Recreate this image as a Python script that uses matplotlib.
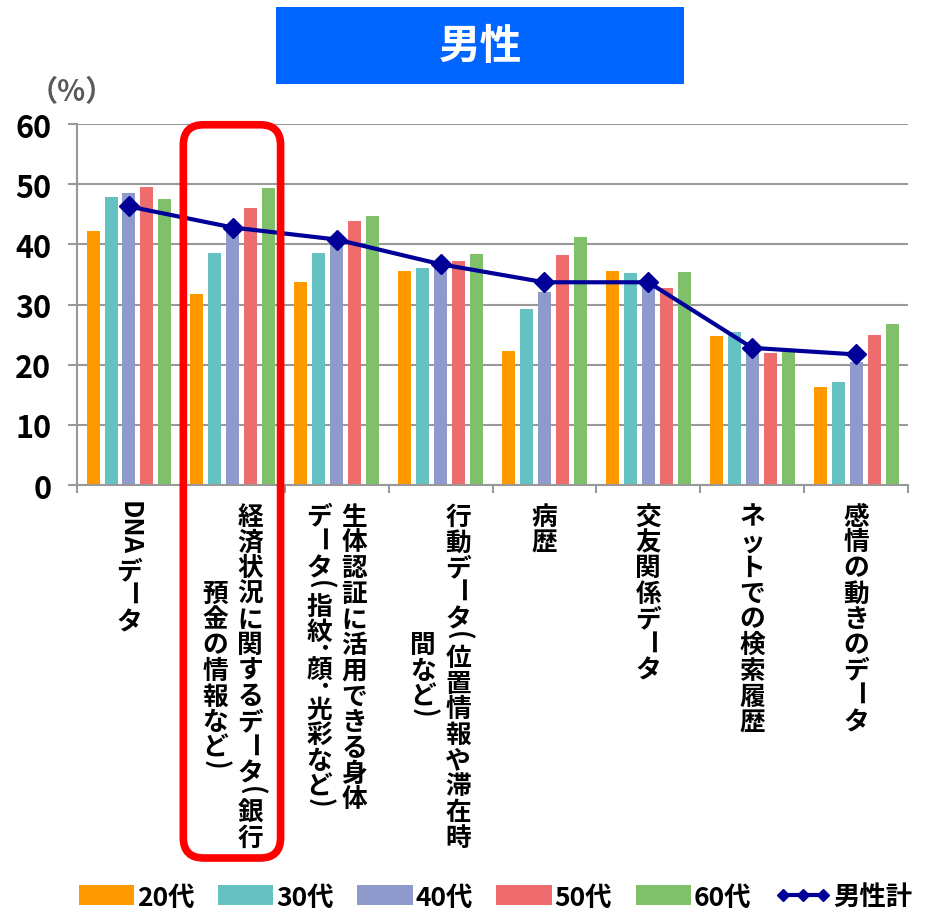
import numpy as np
import matplotlib
matplotlib.use("Agg")
import matplotlib.pyplot as plt
from matplotlib.patches import FancyBboxPatch, Rectangle
from matplotlib.font_manager import FontProperties
from matplotlib.textpath import TextPath

plt.rcParams['font.family'] = ['Noto Sans CJK JP', 'DejaVu Sans']

# survey results (%), men by age group
categories = [
    "DNAデータ",
    "経済状況に関するデータ(銀行\n預金の情報など)",
    "生体認証に活用できる身体\nデータ(指紋･顔･光彩など)",
    "行動データ(位置情報や滞在時\n間など)",
    "病歴",
    "交友関係データ",
    "ネットでの検索履歴",
    "感情の動きのデータ",
]
age_labels = ["20代", "30代", "40代", "50代", "60代"]
v20 = [42.3, 31.7, 33.8, 35.6, 22.3, 35.6, 24.8, 16.3]
v30 = [47.8, 38.6, 38.6, 36.0, 29.2, 35.3, 25.5, 17.1]
v40 = [48.6, 42.5, 40.5, 36.5, 32.0, 33.5, 23.0, 20.4]
v50 = [49.5, 46.0, 43.9, 37.3, 38.3, 32.8, 21.9, 24.9]
v60 = [47.6, 49.3, 44.7, 38.4, 41.3, 35.4, 22.1, 26.7]
total = [46.3, 42.8, 40.8, 36.7, 33.7, 33.7, 22.8, 21.7]
total_label = "男性計"
yticks = [0, 10, 20, 30, 40, 50, 60]

colors = ["#FF9900", "#66C2C2", "#8E9ACB", "#EE6B6E", "#80C06A"]
line_color = "#000099"
grid_color = "#999999"

fig = plt.figure(figsize=(9.26, 9.2), dpi=100)
ax = fig.add_axes([0.0832, 0.4717, 0.8974, 0.3924])

x = np.arange(len(categories))
step = 0.173
width = 0.125
handles = []
for i, vals in enumerate([v20, v30, v40, v50, v60]):
    b = ax.bar(x + (i - 2) * step, vals, width, color=colors[i],
               label=age_labels[i], zorder=2)
    handles.append(b)

ln, = ax.plot(x, total, color=line_color, lw=3, marker="D", ms=10,
              label=total_label, zorder=3)
handles.append(ln)

ax.set_xlim(-0.5, len(categories) - 0.5)
ax.set_ylim(0, 60)
ax.set_yticks(yticks)
ax.grid(axis="y", color=grid_color, lw=1.5, zorder=0)
ax.set_axisbelow(True)
for s in ["top", "right"]:
    ax.spines[s].set_visible(False)
for s in ["left", "bottom"]:
    ax.spines[s].set_color(grid_color)
    ax.spines[s].set_linewidth(1.5)
ax.tick_params(axis="y", length=6.5, width=1.5, color=grid_color, pad=12,
               labelcolor="black")
ax.set_yticklabels([str(v) for v in yticks], size=22, weight="bold")
ax.set_xticks([])
ax.set_xticks(np.arange(-0.5, len(categories)), minor=True)
ax.tick_params(axis="x", which="minor", length=6, width=1.5, color=grid_color)


# vertical (tategaki) category labels: kanji/kana upright, latin and
# brackets/long vowel turned sideways, first line in the right column
def vertical_label(ax, xpos, text, fs=18.5, gap=11, col_sep=25.2):
    fp = FontProperties(family="Noto Sans CJK JP", weight="bold", size=fs)
    lines = text.split("\n")
    cols = []
    for line in lines:
        tokens = []
        buf = ""
        for ch in line:
            if ch.isascii() and ch not in "()":
                buf += ch
                continue
            if buf:
                w = TextPath((0, 0), buf, prop=fp).get_extents().width
                tokens.append((buf, True, w + fs * 0.1))
                buf = ""
            if ch in "()･":
                tokens.append((ch, True, fs * 0.5))
            elif ch == "ー":
                tokens.append((ch, True, fs))
            else:
                tokens.append((ch, False, fs))
        if buf:
            w = TextPath((0, 0), buf, prop=fp).get_extents().width
            tokens.append((buf, True, w + fs * 0.1))
        cols.append(tokens)
    lengths = [sum(t[2] for t in c) for c in cols]
    longest = max(lengths)
    n = len(cols)
    for k, tokens in enumerate(cols):
        dx = ((n - 1) / 2 - k) * col_sep
        pos = gap + (longest - lengths[k]) / 2
        for s, rot, adv in tokens:
            ax.annotate(s, xy=(xpos, 0), xycoords="data",
                        xytext=(dx, -(pos + adv / 2)), textcoords="offset points",
                        ha="center", va="center_baseline" if not rot else "center",
                        rotation=-90 if rot else 0,
                        fontproperties=fp, annotation_clip=False)
            pos += adv


for i, cat in enumerate(categories):
    vertical_label(ax, i, cat)

# title box
fig.add_artist(Rectangle((0.298, 0.9076), 0.4406, 0.0837, transform=fig.transFigure,
                         facecolor="#0066FF", edgecolor="none"))
fig.text(0.5184, 0.949, "男性", color="white", fontsize=30, fontweight="bold",
         ha="center", va="center")
fig.text(0.077, 0.9, "（%）", color="#595959", fontsize=21, fontweight="bold",
         ha="center", va="center")

# highlight frame around the economic data group
fig.add_artist(FancyBboxPatch((0.198, 0.0663), 0.105, 0.797,
                              boxstyle="round,pad=0,rounding_size=0.022",
                              transform=fig.transFigure, fill=False,
                              edgecolor="#FF0000", lw=5.5))

fig.legend(handles=handles, loc="center", bbox_to_anchor=(0.535, 0.024),
           ncol=6, frameon=False, prop={"size": 19, "weight": "bold"},
           handlelength=2.1, handleheight=0.8, handletextpad=0.1,
           columnspacing=0.9, numpoints=3, markerscale=0.65, borderaxespad=0)

fig.savefig("out.png", dpi=100)
